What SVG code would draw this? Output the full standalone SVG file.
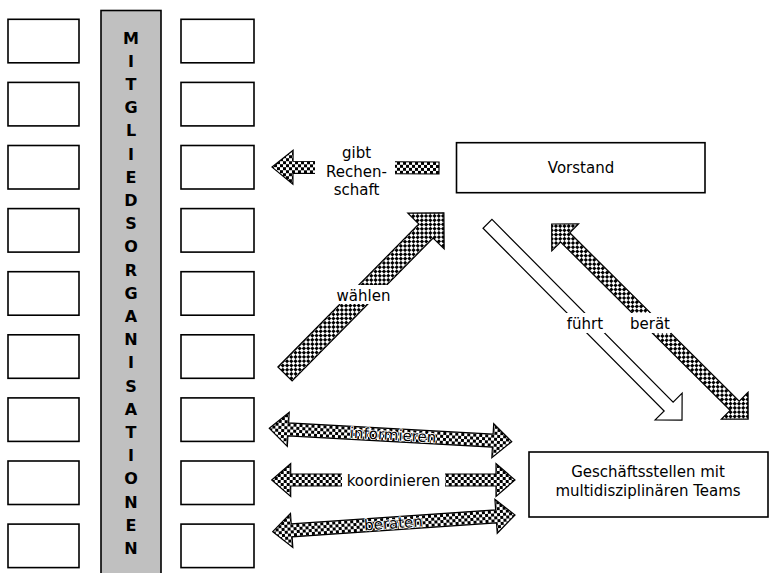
<svg xmlns="http://www.w3.org/2000/svg" width="770" height="573" viewBox="0 0 770 573">
<style>
.box{fill:#fff;stroke:#000;stroke-width:1.6}
.bar{fill:#c0c0c0;stroke:#000;stroke-width:1.6}
.t{font-family:"DejaVu Sans",Verdana,sans-serif;font-size:15px;fill:#000;text-anchor:middle}
.on{paint-order:stroke;stroke:#fff;stroke-width:1.6;stroke-linejoin:round}
.v{font-family:"DejaVu Sans",Verdana,sans-serif;font-size:16px;font-weight:bold;fill:#000;text-anchor:middle}
.chk{fill:url(#checker);stroke:#000;stroke-width:1.2;stroke-linejoin:miter}
.wht{fill:#fff;stroke:#000;stroke-width:1.2}
.bg{fill:#fff;stroke:none}
</style>
<defs>
<pattern id="checker" width="6" height="6" patternUnits="userSpaceOnUse">
<rect width="6" height="6" fill="#fff"/>
<rect width="3" height="3" fill="#000"/>
<rect x="3" y="3" width="3" height="3" fill="#000"/>
</pattern>
</defs>
<rect width="770" height="573" fill="#fff"/>

<g id="members-left">
<rect class="box" x="8" y="19.3" width="71" height="43.5"/>
<rect class="box" x="8" y="82.4" width="71" height="43.5"/>
<rect class="box" x="8" y="145.5" width="71" height="43.5"/>
<rect class="box" x="8" y="208.6" width="71" height="43.5"/>
<rect class="box" x="8" y="271.7" width="71" height="43.5"/>
<rect class="box" x="8" y="334.8" width="71" height="43.5"/>
<rect class="box" x="8" y="397.9" width="71" height="43.5"/>
<rect class="box" x="8" y="461" width="71" height="43.5"/>
<rect class="box" x="8" y="524.1" width="71" height="43.5"/>
</g>
<g id="members-right">
<rect class="box" x="181" y="19.3" width="73" height="43.5"/>
<rect class="box" x="181" y="82.4" width="73" height="43.5"/>
<rect class="box" x="181" y="145.5" width="73" height="43.5"/>
<rect class="box" x="181" y="208.6" width="73" height="43.5"/>
<rect class="box" x="181" y="271.7" width="73" height="43.5"/>
<rect class="box" x="181" y="334.8" width="73" height="43.5"/>
<rect class="box" x="181" y="397.9" width="73" height="43.5"/>
<rect class="box" x="181" y="461" width="73" height="43.5"/>
<rect class="box" x="181" y="524.1" width="73" height="43.5"/>
</g>

<g id="mitgliedsorganisationen">
<rect class="bar" x="101" y="10.5" width="60" height="575"/>
<text class="v" x="131" y="43.5">M</text>
<text class="v" x="131" y="66.7">I</text>
<text class="v" x="131" y="89.9">T</text>
<text class="v" x="131" y="113.1">G</text>
<text class="v" x="131" y="136.3">L</text>
<text class="v" x="131" y="159.5">I</text>
<text class="v" x="131" y="182.7">E</text>
<text class="v" x="131" y="205.9">D</text>
<text class="v" x="131" y="229.1">S</text>
<text class="v" x="131" y="252.3">O</text>
<text class="v" x="131" y="275.5">R</text>
<text class="v" x="131" y="298.7">G</text>
<text class="v" x="131" y="321.9">A</text>
<text class="v" x="131" y="345.1">N</text>
<text class="v" x="131" y="368.3">I</text>
<text class="v" x="131" y="391.5">S</text>
<text class="v" x="131" y="414.7">A</text>
<text class="v" x="131" y="437.9">T</text>
<text class="v" x="131" y="461.1">I</text>
<text class="v" x="131" y="484.3">O</text>
<text class="v" x="131" y="507.5">N</text>
<text class="v" x="131" y="530.7">E</text>
<text class="v" x="131" y="553.9">N</text>
</g>

<g id="vorstand">
<rect class="box" x="456.5" y="142.7" width="248.5" height="50"/>
<text class="t" x="581" y="173">Vorstand</text>
</g>

<g id="geschaeftsstellen">
<rect class="box" x="529" y="452" width="239" height="65"/>
<text class="t" x="648" y="477">Geschäftsstellen mit</text>
<text class="t" x="648" y="495.5">multidisziplinären Teams</text>
</g>

<g id="connectors">
<!-- gibt Rechenschaft -->
<g transform="translate(439,168) rotate(180.3)">
<path class="chk" d="M0,-6 L146,-6 L146,-17 L167,0 L146,17 L146,6 L0,6 Z"/>
</g>
<rect class="bg" x="315" y="140" width="80" height="60"/>
<text class="t" x="356.5" y="157.5">gibt</text>
<text class="t" x="356.5" y="177">Rechen-</text>
<text class="t" x="356.5" y="194.5">schaft</text>

<!-- wählen -->
<g transform="translate(285,374) rotate(-45.4)">
<path class="chk" d="M0,-10 L200.8,-10 L200.8,-25.5 L226.3,0 L200.8,25.5 L200.8,10 L0,10 Z"/>
</g>
<rect class="bg" x="335" y="285" width="57" height="19"/>
<text class="t" x="363.5" y="300.5">wählen</text>

<!-- führt -->
<g transform="translate(487.5,223.8) rotate(45.25)">
<path class="wht" d="M0,-6.3 L257.3,-6.3 L257.3,-19 L276.3,0 L257.3,19 L257.3,6.3 L0,6.3 Z"/>
</g>
<rect class="bg" x="565" y="313" width="40" height="20"/>
<text class="t" x="585" y="328.5">führt</text>

<!-- berät -->
<g transform="translate(551.7,224) rotate(44.8)">
<path class="chk" d="M0,0 L19,-19 L19,-6.5 L257.9,-6.5 L257.9,-19 L276.9,0 L257.9,19 L257.9,6.5 L19,6.5 L19,19 Z"/>
</g>
<rect class="bg" x="629" y="313" width="42" height="20"/>
<text class="t" x="650" y="328.5">berät</text>

<!-- informieren -->
<g transform="translate(269.3,428.3) rotate(3.16)">
<path class="chk" d="M0,0 L19,-17 L19,-6.5 L223.8,-6.5 L223.8,-17 L242.8,0 L223.8,17 L223.8,6.5 L19,6.5 L19,17 Z"/>
<text class="t on" x="124" y="5">informieren</text>
</g>

<!-- koordinieren -->
<g transform="translate(271.7,480)">
<path class="chk" d="M0,0 L19,-16.5 L19,-6 L224.3,-6 L224.3,-16.5 L243.3,0 L224.3,16.5 L224.3,6 L19,6 L19,16.5 Z"/>
</g>
<rect class="bg" x="342" y="469" width="103" height="22"/>
<text class="t" x="393.5" y="485.5">koordinieren</text>

<!-- beraten -->
<g transform="translate(272.7,531.7) rotate(-3.94)">
<path class="chk" d="M0,0 L19,-17 L19,-6.5 L223.9,-6.5 L223.9,-17 L242.9,0 L223.9,17 L223.9,6.5 L19,6.5 L19,17 Z"/>
<text class="t on" x="121" y="5">beraten</text>
</g>
</g>
</svg>
